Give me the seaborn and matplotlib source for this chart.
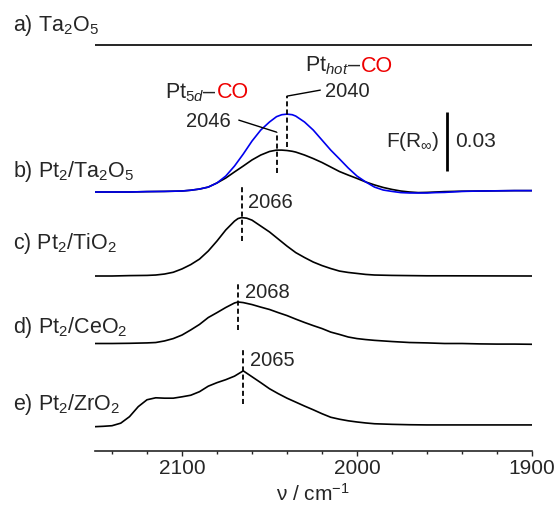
import numpy as np
import pandas as pd
import matplotlib
matplotlib.use("Agg")
import matplotlib.pyplot as plt
from matplotlib.ticker import MultipleLocator
import seaborn as sns

# F(R) values, relative to each spectrum's own baseline
nu_ta2o5 = [2150, 1900]
fr_ta2o5 = [0.0, 0.0]

nu_pt_ta2o5 = [2150, 2140, 2130, 2120, 2110, 2100, 2095, 2090, 2085, 2080,
               2075, 2070, 2065, 2060, 2055, 2050, 2046, 2043, 2040, 2037, 2035, 2030,
               2025, 2020, 2015, 2010, 2005, 2000, 1995, 1990, 1985, 1980,
               1975, 1970, 1965, 1960, 1955, 1950, 1940, 1930, 1920, 1910, 1900]
fr_pt_ta2o5 = [0, 0, 0, 0.0002, 0.0003, 0.0005, 0.0009, 0.0015, 0.0025, 0.0046,
               0.0071, 0.0102, 0.0132, 0.0163, 0.0188, 0.0206, 0.0213, 0.0213, 0.0211, 0.0207, 0.0203, 0.0188,
               0.0170, 0.0150, 0.0127, 0.0104, 0.0086, 0.0069, 0.0051, 0.0036, 0.0023, 0.0013,
               0.0005, 0, -0.0003, -0.0002, 0, 0.0002, 0.0004, 0.0005, 0.0006, 0.0007, 0.0007]
fr_pt_ta2o5_hot = [0, 0, 0, 0.0002, 0.0003, 0.0005, 0.0009, 0.0015, 0.0025, 0.0046,
                   0.0081, 0.0132, 0.0193, 0.0259, 0.0315, 0.0356, 0.0383, 0.0393, 0.0396, 0.0393, 0.0386, 0.0356,
                   0.0315, 0.0264, 0.0213, 0.0168, 0.0122, 0.0081, 0.0051, 0.0025, 0.0010, 0.0003,
                   -0.0003, -0.0005, -0.0005, -0.0005, -0.0003, -0.0002, 0.0003, 0.0005, 0.0006, 0.0007, 0.0007]

nu_pt_tio2 = [2150, 2140, 2130, 2120, 2115, 2110, 2105, 2100, 2095, 2090,
              2085, 2080, 2075, 2070, 2068, 2066, 2063, 2060, 2055, 2050, 2045, 2040,
              2035, 2030, 2025, 2020, 2015, 2010, 2005, 2000, 1995, 1990,
              1980, 1970, 1960, 1950, 1900]
fr_pt_tio2 = [0, 0, 0.0002, 0.0003, 0.0005, 0.0010, 0.0019, 0.0036, 0.0058, 0.0086,
              0.0127, 0.0178, 0.0234, 0.0279, 0.0292, 0.0297, 0.0294, 0.0284, 0.0254, 0.0224, 0.0188, 0.0152,
              0.0119, 0.0094, 0.0071, 0.0053, 0.0038, 0.0025, 0.0018, 0.0013, 0.0008, 0.0005,
              0.0003, 0.0002, 0.0001, 0.0001, 0]

nu_pt_ceo2 = [2150, 2140, 2130, 2120, 2115, 2110, 2105, 2100, 2095, 2090,
              2085, 2080, 2075, 2070, 2068, 2065, 2060, 2055, 2050, 2045,
              2040, 2035, 2030, 2025, 2020, 2015, 2010, 2005, 2000, 1995,
              1990, 1980, 1970, 1960, 1950, 1940, 1930, 1920, 1910, 1900]
fr_pt_ceo2 = [0, 0, 0.0001, 0.0003, 0.0005, 0.0013, 0.0025, 0.0043, 0.0069, 0.0097,
              0.0132, 0.0157, 0.0183, 0.0206, 0.0211, 0.0208, 0.0198, 0.0185, 0.0173, 0.0157,
              0.0142, 0.0124, 0.0107, 0.0091, 0.0076, 0.0058, 0.0046, 0.0033, 0.0025, 0.0020,
              0.0016, 0.0010, 0.0005, 0.0003, 0, 0, -0.0002, -0.0003, -0.0003, -0.0004]

nu_pt_zro2 = [2150, 2145, 2140, 2135, 2130, 2125, 2120, 2115, 2110, 2105,
              2100, 2095, 2090, 2085, 2080, 2075, 2070, 2065, 2060, 2055,
              2050, 2045, 2040, 2035, 2030, 2025, 2020, 2015, 2010, 2005,
              2000, 1995, 1990, 1980, 1970, 1960, 1950, 1900]
fr_pt_zro2 = [0, 0.0002, 0.0005, 0.0018, 0.0051, 0.0102, 0.0137, 0.0147, 0.0145, 0.0145,
              0.0152, 0.0160, 0.0178, 0.0206, 0.0224, 0.0239, 0.0257, 0.0284, 0.0254, 0.0224,
              0.0193, 0.0168, 0.0145, 0.0125, 0.0105, 0.0086, 0.0066, 0.0048, 0.0038, 0.0030,
              0.0024, 0.0019, 0.0015, 0.0012, 0.0010, 0.0009, 0.0009, 0.0009]

sample_labels = ["a) Ta$_2$O$_5$", "b) Pt$_2$/Ta$_2$O$_5$", "c) Pt$_2$/TiO$_2$",
                 "d) Pt$_2$/CeO$_2$", "e) Pt$_2$/ZrO$_2$"]
peak_labels = ["2046", "2040", "2066", "2068", "2065"]
scale_bar = 0.03

# layout (pixel based, figure is 559x508 at dpi 100)
W, H = 559, 508
px_y = 0.03 / 59       # F(R) per pixel
px_x = 1 / 1.75        # cm-1 per pixel
offsets = {"ta2o5": 406, "pt_ta2o5": 259, "pt_ta2o5_hot": 259,
           "pt_tio2": 175, "pt_ceo2": 107.5, "pt_zro2": 24.3}

traces = [("ta2o5", nu_ta2o5, fr_ta2o5),
          ("pt_ta2o5", nu_pt_ta2o5, fr_pt_ta2o5),
          ("pt_tio2", nu_pt_tio2, fr_pt_tio2),
          ("pt_ceo2", nu_pt_ceo2, fr_pt_ceo2),
          ("pt_zro2", nu_pt_zro2, fr_pt_zro2),
          ("pt_ta2o5_hot", nu_pt_ta2o5, fr_pt_ta2o5_hot)]

frames = []
for name, nu, fr in traces:
    frames.append(pd.DataFrame({"nu": nu, "y": np.array(fr) + offsets[name] * px_y, "trace": name}))
df = pd.concat(frames, ignore_index=True)

sns.set_theme(style="ticks")
plt.rcParams["font.family"] = ["Liberation Sans", "DejaVu Sans"]
plt.rcParams["mathtext.fontset"] = "custom"
plt.rcParams["mathtext.rm"] = "Liberation Sans"
plt.rcParams["mathtext.it"] = "Liberation Sans:italic"
plt.rcParams["mathtext.bf"] = "Liberation Sans:bold"

fig = plt.figure(figsize=(W / 100, H / 100), dpi=100)
ax = fig.add_axes([94.5 / W, 57 / H, 437.5 / W, 446 / H])

colors = {name: "black" for name, _, _ in traces}
colors["pt_ta2o5_hot"] = "#0000ee"
sns.lineplot(data=df, x="nu", y="y", hue="trace", hue_order=[t[0] for t in traces],
             palette=colors, estimator=None, sort=False, legend=False,
             linewidth=1.2, ax=ax)

ax.set_xlim(2150, 1900)
ax.set_ylim(0, 446 * px_y)
for s in ["left", "top", "right"]:
    ax.spines[s].set_visible(False)
ax.spines["bottom"].set_linewidth(1.2)
ax.set_yticks([])
ax.set_ylabel("")
ax.xaxis.set_major_locator(MultipleLocator(100))
ax.xaxis.set_minor_locator(MultipleLocator(20))
ax.tick_params(axis="x", which="major", direction="out", length=3.6, width=1, pad=2, labelsize=15)
ax.tick_params(axis="x", which="minor", direction="out", length=2.4, width=1)
ax.set_xlabel("ν / cm$^{-1}$", fontsize=15)
ax.xaxis.set_label_coords(0.5, -43 / 446)
ax.xaxis.label.set_va("center")


def peak_y(name, nu, fr, pos):
    return fr[nu.index(pos)] + offsets[name] * px_y


dash = (0, (2.8, 1.7))
# (trace, nu list, values, peak, px above, px below, text dx, text dy, ha)
marks = [("pt_ta2o5", nu_pt_ta2o5, fr_pt_ta2o5, 2046, 18, 23, -46, 28.3, "right"),
         ("pt_ta2o5_hot", nu_pt_ta2o5, fr_pt_ta2o5_hot, 2040, 18, 33, 38.3, 22.3, "left"),
         ("pt_tio2", nu_pt_tio2, fr_pt_tio2, 2066, 33, 23, 6.5, 14.7, "left"),
         ("pt_ceo2", nu_pt_ceo2, fr_pt_ceo2, 2068, 20, 28, 6.5, 10, "left"),
         ("pt_zro2", nu_pt_zro2, fr_pt_zro2, 2065, 23, 33, 7, 10.7, "left")]
for (name, nu, fr, pos, up, down, tdx, tdy, ha), lab in zip(marks, peak_labels):
    yp = peak_y(name, nu, fr, pos)
    ax.vlines(pos, yp - down * px_y, yp + up * px_y, colors="black",
              linestyles=dash, linewidth=1.3)
    ax.text(pos - tdx * px_x, yp + tdy * px_y, lab, ha=ha, va="center", fontsize=14.5)

# leader lines from the Ta2O5 peak marks to their labels
yb = peak_y("pt_ta2o5", nu_pt_ta2o5, fr_pt_ta2o5, 2046)
ax.plot([2046, 2046 + 37.7 * px_x], [yb + 18 * px_y, yb + 30 * px_y], color="black", linewidth=1)
yh = peak_y("pt_ta2o5_hot", nu_pt_ta2o5, fr_pt_ta2o5_hot, 2040)
ax.plot([2040, 2040 - 33.3 * px_x], [yh + 18 * px_y, yh + 24 * px_y], color="black", linewidth=1)

# scale bar
sb_nu = 2150 - (447.3 - 94.5) * px_x
sb_y0 = (451 - 170.7) * px_y
ax.vlines(sb_nu, sb_y0, sb_y0 + scale_bar, colors="black", linewidth=2)
ax.text(sb_nu + 7.5 * px_x, sb_y0 + scale_bar / 2, "F(R$_{\\infty}$)", ha="right", va="center", fontsize=15)
ax.text(sb_nu - 7.5 * px_x, sb_y0 + scale_bar / 2, f"{scale_bar:.2f}", ha="left", va="center", fontsize=15)

# sample labels
for lab, yb_px in zip(sample_labels, [30.7, 176.7, 249, 333, 410]):
    fig.text(12.7 / W, 1 - yb_px / H, lab, ha="left", va="baseline", fontsize=15.5)

# species labels with red CO
species = [("Pt$_{\\mathit{5d}}$–", 165, 98.3), ("Pt$_{\\mathit{hot}}$–", 305, 71.7)]
texts = []
for s, x, y in species:
    texts.append(fig.text(x / W, 1 - y / H, s, ha="left", va="baseline", fontsize=15.5))
fig.canvas.draw()
for t, (s, x, y) in zip(texts, species):
    bb = t.get_window_extent()
    fig.text(bb.x1 / fig.bbox.width, 1 - y / H, "CO", color="#ee0000",
             ha="left", va="baseline", fontsize=15.5)

fig.savefig("out.png", dpi=100)
